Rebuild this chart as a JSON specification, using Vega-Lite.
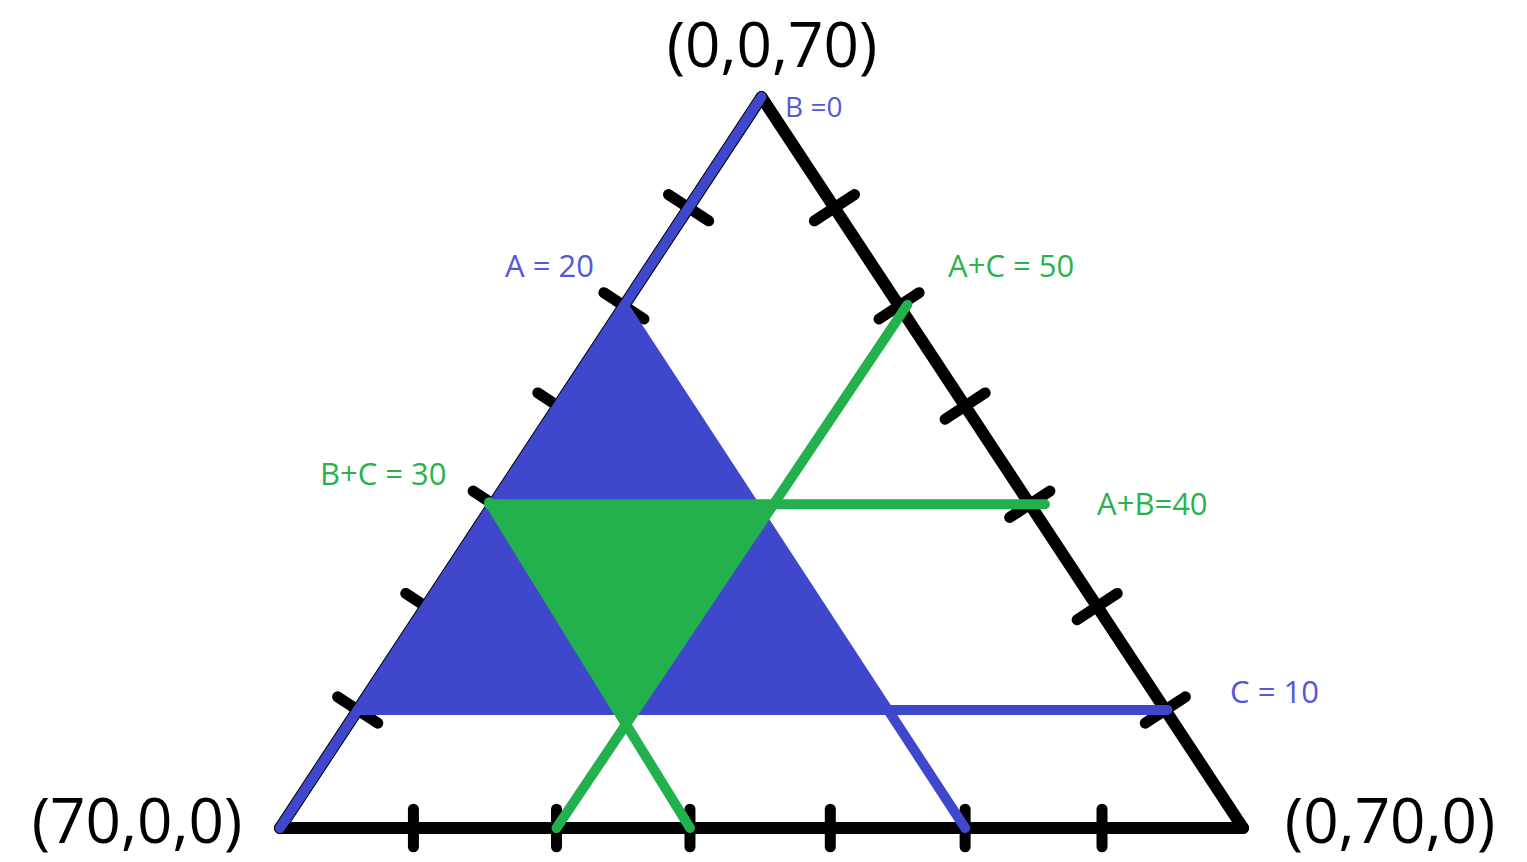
{
  "$schema": "https://vega.github.io/schema/vega-lite/v6.json",
  "width": 1527,
  "height": 862,
  "autosize": {"type": "fit", "contains": "padding"},
  "padding": 0,
  "background": "white",
  "config": {"view": {"stroke": null}},
  "datasets": {
    "seg": [
      {"kind": "edge", "x": 0, "y": 0, "x2": 70, "y2": 0},
      {"kind": "edge", "x": 70, "y": 0, "x2": 35, "y2": 70},
      {"kind": "edge", "x": 35, "y": 70, "x2": 0, "y2": 0},
      {"kind": "tickb", "x": 9.7, "y": -1.8, "x2": 9.7, "y2": 1.8},
      {"kind": "tickb", "x": 20.1, "y": -1.8, "x2": 20.1, "y2": 1.8},
      {"kind": "tickb", "x": 29.8, "y": -1.8, "x2": 29.8, "y2": 1.8},
      {"kind": "tickb", "x": 40.0, "y": -1.8, "x2": 40.0, "y2": 1.8},
      {"kind": "tickb", "x": 49.8, "y": -1.8, "x2": 49.8, "y2": 1.8},
      {"kind": "tickb", "x": 59.75, "y": -1.8, "x2": 59.75, "y2": 1.8},
      {"kind": "tick", "x": 4.19, "y": 12.56, "x2": 7.11, "y2": 10.04},
      {"kind": "tick", "x": 9.14, "y": 22.46, "x2": 12.06, "y2": 19.94},
      {"kind": "tick", "x": 14.04, "y": 32.26, "x2": 16.96, "y2": 29.74},
      {"kind": "tick", "x": 18.74, "y": 41.66, "x2": 21.66, "y2": 39.14},
      {"kind": "tick", "x": 23.54, "y": 51.26, "x2": 26.46, "y2": 48.74},
      {"kind": "tick", "x": 28.24, "y": 60.66, "x2": 31.16, "y2": 58.14},
      {"kind": "tick", "x": 62.89, "y": 10.04, "x2": 65.81, "y2": 12.56},
      {"kind": "tick", "x": 57.94, "y": 19.94, "x2": 60.86, "y2": 22.46},
      {"kind": "tick", "x": 53.04, "y": 29.74, "x2": 55.96, "y2": 32.26},
      {"kind": "tick", "x": 48.34, "y": 39.14, "x2": 51.26, "y2": 41.66},
      {"kind": "tick", "x": 43.54, "y": 48.74, "x2": 46.46, "y2": 51.26},
      {"kind": "tick", "x": 38.84, "y": 58.14, "x2": 41.76, "y2": 60.66},
      {"kind": "blue", "x": 0, "y": 0, "x2": 35, "y2": 70},
      {"kind": "blue", "x": 25, "y": 50, "x2": 49.8, "y2": 0},
      {"kind": "blue", "x": 5.65, "y": 11.3, "x2": 64.5, "y2": 11.3},
      {"kind": "green", "x": 15.2, "y": 31.2, "x2": 29.8, "y2": 0},
      {"kind": "green", "x": 15.2, "y": 31, "x2": 55.6, "y2": 31},
      {"kind": "green", "x": 20.1, "y": 0, "x2": 45.6, "y2": 50.1}
    ],
    "fill": [
      {"shape": "blue", "x": 5.65, "y": 11.3, "y2": 11.3},
      {"shape": "blue", "x": 25, "y": 50, "y2": 11.3},
      {"shape": "blue", "x": 44.35, "y": 11.3, "y2": 11.3},
      {"shape": "green", "x": 15.5, "y": 31, "y2": 31},
      {"shape": "green", "x": 25.22, "y": 31, "y2": 10.23},
      {"shape": "green", "x": 35.8, "y": 31, "y2": 31}
    ],
    "labels": [
      {"group": "big", "text": "(0,0,70)", "x": 35.76, "y": 72.83},
      {"group": "big", "text": "(70,0,0)", "x": -10.39, "y": -1.44},
      {"group": "big", "text": "(0,70,0)", "x": 80.69, "y": -1.44},
      {"group": "bsmall", "text": "B =0", "x": 36.71, "y": 68.08},
      {"group": "blue", "text": "A = 20", "x": 16.36, "y": 52.76},
      {"group": "blue", "text": "C = 10", "x": 69.06, "y": 11.97},
      {"group": "green", "text": "A+C = 50", "x": 48.56, "y": 52.76},
      {"group": "green", "text": "B+C = 30", "x": 2.91, "y": 32.85},
      {"group": "green", "text": "A+B=40", "x": 59.39, "y": 29.97}
    ]
  },
  "encoding": {
    "x": {"field": "x", "type": "quantitative", "axis": null, "scale": {"domain": [-20.35, 90.64], "nice": false, "zero": false}},
    "y": {"field": "y", "type": "quantitative", "axis": null, "scale": {"domain": [-3.256, 79.29], "nice": false, "zero": false}}
  },
  "layer": [
    {
      "data": {"name": "seg"},
      "transform": [{"filter": "datum.kind === 'edge'"}],
      "mark": {"type": "rule", "color": "black", "strokeWidth": 12, "strokeCap": "round"},
      "encoding": {"x2": {"field": "x2"}, "y2": {"field": "y2"}}
    },
    {
      "data": {"name": "seg"},
      "transform": [{"filter": "datum.kind === 'tick' || datum.kind === 'tickb'"}],
      "mark": {"type": "rule", "color": "black", "strokeWidth": 11, "strokeCap": "round"},
      "encoding": {"x2": {"field": "x2"}, "y2": {"field": "y2"}}
    },
    {
      "data": {"name": "seg"},
      "transform": [{"filter": "datum.kind === 'blue'"}],
      "mark": {"type": "rule", "color": "#3F48CC", "strokeWidth": 10, "strokeCap": "round"},
      "encoding": {"x2": {"field": "x2"}, "y2": {"field": "y2"}}
    },
    {
      "data": {"name": "fill"},
      "transform": [{"filter": "datum.shape === 'blue'"}],
      "mark": {"type": "area", "color": "#3F48CC", "opacity": 1},
      "encoding": {"y2": {"field": "y2"}}
    },
    {
      "data": {"name": "fill"},
      "transform": [{"filter": "datum.shape === 'green'"}],
      "mark": {"type": "area", "color": "#22B14C", "opacity": 1},
      "encoding": {"y2": {"field": "y2"}}
    },
    {
      "data": {"name": "seg"},
      "transform": [{"filter": "datum.kind === 'green'"}],
      "mark": {"type": "rule", "color": "#22B14C", "strokeWidth": 10, "strokeCap": "round"},
      "encoding": {"x2": {"field": "x2"}, "y2": {"field": "y2"}}
    },
    {
      "data": {"name": "labels"},
      "transform": [{"filter": "datum.group === 'big'"}],
      "mark": {"type": "text", "font": "Open Sans", "fontSize": 62, "color": "black", "align": "center", "baseline": "alphabetic"},
      "encoding": {"text": {"field": "text"}}
    },
    {
      "data": {"name": "labels"},
      "transform": [{"filter": "datum.group === 'bsmall'"}],
      "mark": {"type": "text", "font": "Open Sans", "fontSize": 28, "color": "#5558d8", "align": "left", "baseline": "alphabetic"},
      "encoding": {"text": {"field": "text"}}
    },
    {
      "data": {"name": "labels"},
      "transform": [{"filter": "datum.group === 'blue'"}],
      "mark": {"type": "text", "font": "Open Sans", "fontSize": 31, "color": "#5558d8", "align": "left", "baseline": "alphabetic"},
      "encoding": {"text": {"field": "text"}}
    },
    {
      "data": {"name": "labels"},
      "transform": [{"filter": "datum.group === 'green'"}],
      "mark": {"type": "text", "font": "Open Sans", "fontSize": 31, "color": "#2bb24f", "align": "left", "baseline": "alphabetic"},
      "encoding": {"text": {"field": "text"}}
    }
  ]
}
